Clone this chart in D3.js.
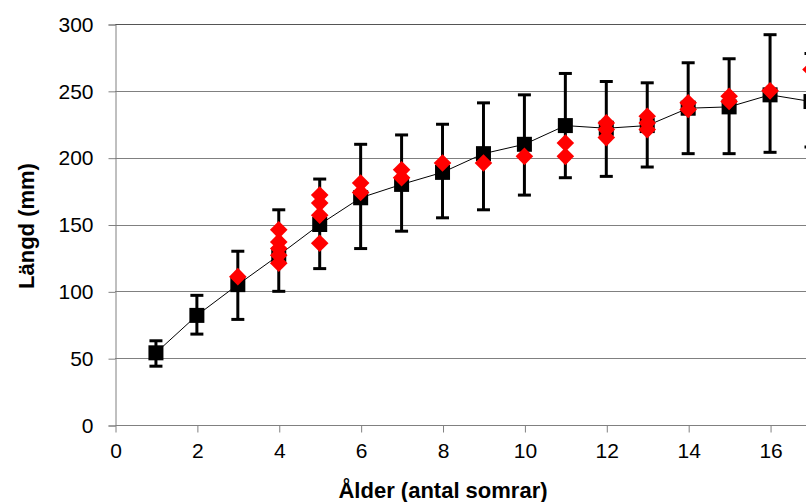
<!DOCTYPE html>
<html>
<head>
<meta charset="utf-8">
<script src="https://cdn.jsdelivr.net/npm/d3@7"></script>
<style>
  body { margin: 0; background: #fff; }
  svg { display: block; }
  text { font-family: "Liberation Sans", Arial, sans-serif; }
</style>
</head>
<body>
<svg id="chart"></svg>
<script>
// mean length per age with error bars
var ages = [1, 2, 3, 4, 5, 6, 7, 8, 9, 10, 11, 12, 13, 14, 15, 16, 17]
var meanLen = [54, 82, 105, 127, 150, 170, 180, 189, 203, 210, 224, 222, 224, 237, 238, 247, 242]
var errLow = [44, 68, 79, 100, 117, 132, 145, 155, 161, 172, 185, 186, 193, 203, 203, 204, 208]
var errHigh = [63, 97, 130, 161, 184, 210, 217, 225, 241, 247, 263, 257, 256, 271, 274, 292, 278]

// individual observations (red diamonds)
var obsAge = [3, 4, 4, 4, 4, 4, 5, 5, 5, 5, 6, 6, 7, 7, 8, 9, 10, 11, 11, 12, 12, 12, 13, 13, 13, 14, 14, 15, 15, 16, 17]
var obsLen = [111, 146, 137, 132, 127, 121, 172, 166, 157, 136, 181, 174, 191, 185, 196, 196, 201, 211, 201, 226, 221, 215, 231, 226, 221, 241, 236, 246, 242, 250, 266]

var xTicks = [0, 2, 4, 6, 8, 10, 12, 14, 16]
var yTicks = [0, 50, 100, 150, 200, 250, 300]

var width = 806
var height = 502

var svg = d3.select("#chart")
  .attr("width", width)
  .attr("height", height)

var x = d3.scaleLinear()
  .domain([0, 17])
  .range([115, 811])

var y = d3.scaleLinear()
  .domain([0, 300])
  .range([425, 24])

var plotRight = x(18)

// gridlines
svg.append("g")
  .selectAll("line")
  .data(yTicks.filter(d => d > 0))
  .join("line")
  .attr("x1", x(0))
  .attr("x2", plotRight)
  .attr("y1", d => Math.round(y(d)) + 0.5)
  .attr("y2", d => Math.round(y(d)) + 0.5)
  .attr("stroke", d => d == 300 ? "#555" : "#808080")
  .attr("stroke-width", 1)

// y axis
var yAxis = d3.axisLeft(y)
  .tickValues(yTicks)
  .tickSize(7)
  .tickPadding(15)
svg.append("g")
  .attr("transform", "translate(" + (x(0) + 0.5) + ",0.5)")
  .call(yAxis)
  .call(g => g.select(".domain").attr("stroke", "#808080"))
  .call(g => g.selectAll(".tick line").attr("stroke", "#808080"))
  .call(g => g.selectAll("text")
    .attr("font-size", 21)
    .attr("font-family", "Liberation Sans, Arial, sans-serif")
    .attr("fill", "#000"))

// x axis
var xAxis = d3.axisBottom(x)
  .tickValues(xTicks)
  .tickSize(7)
  .tickPadding(11)
svg.append("g")
  .attr("transform", "translate(0.5," + (y(0) + 0.5) + ")")
  .call(xAxis)
  .call(g => g.select(".domain").attr("stroke", "#808080").attr("d", "M" + x(0) + ",0H" + plotRight))
  .call(g => g.selectAll(".tick line").attr("stroke", "#808080"))
  .call(g => g.selectAll("text")
    .attr("font-size", 21)
    .attr("font-family", "Liberation Sans, Arial, sans-serif")
    .attr("fill", "#000"))

// connecting line through the means
var line = d3.line()
  .x((d, i) => x(ages[i]))
  .y(d => y(d))
svg.append("path")
  .datum(meanLen)
  .attr("d", line)
  .attr("fill", "none")
  .attr("stroke", "#000")
  .attr("stroke-width", 1)

// error bars
var capW = 6.5
var bars = svg.append("g")
  .attr("stroke", "#000")
  .attr("stroke-width", 3)
bars.selectAll(".vert")
  .data(ages)
  .join("line")
  .attr("class", "vert")
  .attr("x1", d => x(d))
  .attr("x2", d => x(d))
  .attr("y1", (d, i) => y(errLow[i]))
  .attr("y2", (d, i) => y(errHigh[i]))
bars.selectAll(".capTop")
  .data(ages)
  .join("line")
  .attr("class", "capTop")
  .attr("x1", d => x(d) - capW)
  .attr("x2", d => x(d) + capW)
  .attr("y1", (d, i) => y(errHigh[i]))
  .attr("y2", (d, i) => y(errHigh[i]))
bars.selectAll(".capBot")
  .data(ages)
  .join("line")
  .attr("class", "capBot")
  .attr("x1", d => x(d) - capW)
  .attr("x2", d => x(d) + capW)
  .attr("y1", (d, i) => y(errLow[i]))
  .attr("y2", (d, i) => y(errLow[i]))

// black squares
var sq = 15
svg.append("g")
  .selectAll("rect")
  .data(ages)
  .join("rect")
  .attr("x", d => x(d) - sq / 2)
  .attr("y", (d, i) => y(meanLen[i]) - sq / 2)
  .attr("width", sq)
  .attr("height", sq)
  .attr("fill", "#000")

// red diamonds
var diamond = d3.symbol().type(d3.symbolSquare).size(155)
svg.append("g")
  .selectAll("path")
  .data(obsAge)
  .join("path")
  .attr("d", diamond)
  .attr("transform", (d, i) => "translate(" + x(d) + "," + y(obsLen[i]) + ") rotate(45)")
  .attr("fill", "#ff0000")

// axis titles
svg.append("text")
  .attr("x", 443)
  .attr("y", 498)
  .attr("text-anchor", "middle")
  .attr("font-size", 22)
  .attr("font-weight", "bold")
  .text("Ålder (antal somrar)")

svg.append("text")
  .attr("transform", "translate(34,226) rotate(-90)")
  .attr("text-anchor", "middle")
  .attr("font-size", 22)
  .attr("font-weight", "bold")
  .text("Längd (mm)")
</script>
</body>
</html>
